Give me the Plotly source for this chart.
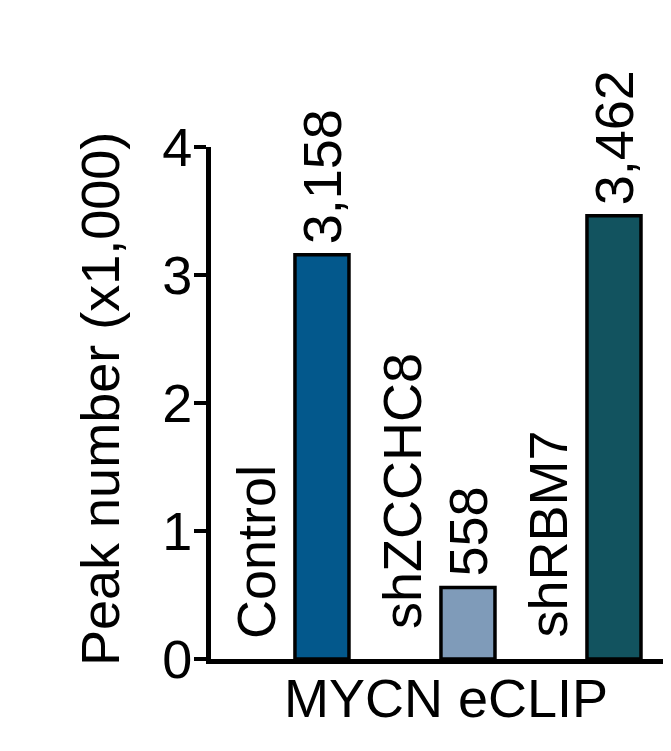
import plotly.graph_objects as go

categories = ["Control", "shZCCHC8", "shRBM7"]
values = [3.158, 0.558, 3.462]  # peak number in thousands
colors = ["#03588C", "#7F9BB9", "#12535F"]
y_ticks = [0, 1, 2, 3, 4]

# style: vertical offsets (px) of the category labels above the baseline
label_lift = [18, 28, 20]

FONT = "Arial, Liberation Sans, sans-serif"
FS = 54

xs = list(range(len(categories)))

fig = go.Figure()
fig.add_trace(go.Bar(
    x=xs, y=values, width=0.37,
    marker=dict(color=colors, line=dict(color="black", width=3.5)),
    showlegend=False, hoverinfo="skip",
))

annotations = []
for i, (c, v) in enumerate(zip(categories, values)):
    annotations.append(dict(
        x=i, y=v, xref="x", yref="y", text=f"{int(round(v * 1000)):,}",
        textangle=-90, showarrow=False, xanchor="center", yanchor="bottom",
        yshift=9, font=dict(family=FONT, size=FS, color="black"),
    ))
    annotations.append(dict(
        x=i, y=0, xref="x", yref="y", text=c,
        textangle=-90, showarrow=False, xanchor="center", yanchor="bottom",
        xshift=-66, yshift=label_lift[i], font=dict(family=FONT, size=FS, color="black"),
    ))

annotations.append(dict(
    x=0, y=0.5, xref="paper", yref="paper", text="Peak number (x1,000)",
    textangle=-90, showarrow=False, xanchor="center", yanchor="middle",
    xshift=-111, yshift=4, font=dict(family=FONT, size=FS, color="black"),
))
annotations.append(dict(
    x=0.5, y=0, xref="paper", yref="paper", text="MYCN eCLIP",
    showarrow=False, xanchor="center", yanchor="middle",
    xshift=6, yshift=-39, font=dict(family=FONT, size=FS, color="black"),
))

fig.update_layout(
    width=663, height=743,
    margin=dict(l=203, r=3, t=139, b=92),
    paper_bgcolor="white", plot_bgcolor="white",
    font=dict(family=FONT, size=FS, color="black"),
    annotations=annotations,
    xaxis=dict(range=[-0.76, 2.37], showline=True, linecolor="black", linewidth=5,
               ticks="", showticklabels=False, showgrid=False, zeroline=False),
    yaxis=dict(range=[0, 4], tickvals=y_ticks, ticks="outside", ticklen=12,
               tickwidth=4, tickcolor="black", showline=True, linecolor="black",
               linewidth=5, showgrid=False, zeroline=False, ticklabelstandoff=-9,
               tickfont=dict(family=FONT, size=FS, color="black")),
)

fig.write_html("out.html")
